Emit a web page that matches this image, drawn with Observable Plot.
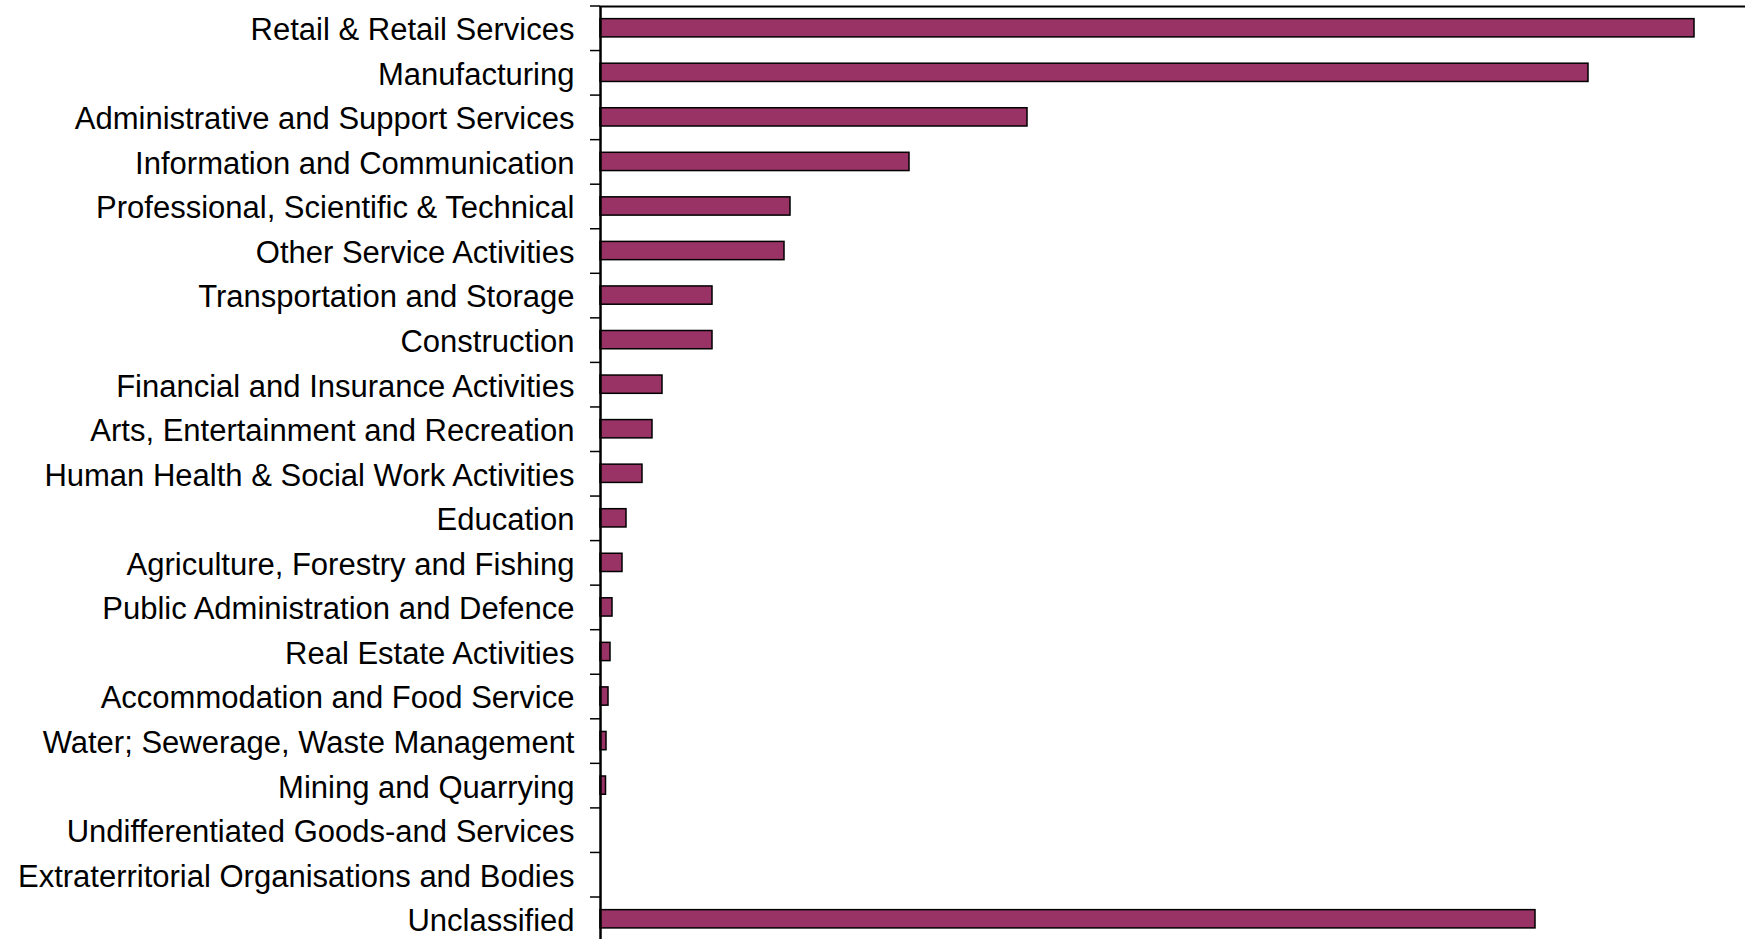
<!DOCTYPE html>
<html>
<head>
<meta charset="utf-8">
<script src="https://cdn.jsdelivr.net/npm/d3@7"></script>
<script src="https://cdn.jsdelivr.net/npm/@observablehq/plot@0.6"></script>
<style>
  html, body { margin: 0; padding: 0; background: #fff; }
  #chart svg { display: block; }
</style>
</head>
<body>
<div id="chart"></div>
<script>
const sectors = [
  "Retail & Retail Services",
  "Manufacturing",
  "Administrative and Support Services",
  "Information and Communication",
  "Professional, Scientific & Technical",
  "Other Service Activities",
  "Transportation and Storage",
  "Construction",
  "Financial and Insurance Activities",
  "Arts, Entertainment and Recreation",
  "Human Health & Social Work Activities",
  "Education",
  "Agriculture, Forestry and Fishing",
  "Public Administration and Defence",
  "Real Estate Activities",
  "Accommodation and Food Service",
  "Water; Sewerage, Waste Management",
  "Mining and Quarrying",
  "Undifferentiated Goods-and Services",
  "Extraterritorial Organisations and Bodies",
  "Unclassified"
];
const counts = [1094, 988, 427, 309, 190, 184, 112, 112, 62, 52, 42, 26, 22, 12, 10, 8, 6, 5.5, 0, 0, 935];
const xMax = 1145;

const data = sectors.map((s, i) => ({sector: s, value: counts[i]}));

const W = 1745, H = 939;
const plotTop = 5.5, plotBottom = 5.5 + 21 * 44.55;
const step = (plotBottom - plotTop) / sectors.length;

const chart = Plot.plot({
  width: W,
  height: H,
  marginLeft: 600,
  marginRight: 0,
  marginTop: 6,
  marginBottom: 0,
  style: {fontFamily: "'Liberation Sans', Arial, sans-serif", fontSize: "31px", color: "#000", background: "#fff"},
  x: {domain: [0, xMax], axis: null},
  y: {domain: sectors, range: [plotTop, plotBottom], paddingInner: 0.59, paddingOuter: 0.295, align: 0.5, round: false, axis: null, label: null},
  marks: [
    Plot.frame({anchor: "top", stroke: "#000", strokeWidth: 2, strokeOpacity: 1}),
    Plot.barX(data, {y: "sector", x: "value", fill: "#993366", stroke: "#000", strokeWidth: 1.5}),
    Plot.axisY({tickSize: 10, text: null, label: null, dy: -step / 2, stroke: "#000", strokeWidth: 1.5, strokeOpacity: 1}),
    Plot.axisY({tickSize: 0, tickPadding: 26, label: null, fontSize: 31, dy: 2, fill: "#000"}),
    Plot.ruleX([0], {stroke: "#000", strokeWidth: 2.5})
  ]
});
document.getElementById("chart").appendChild(chart);
</script>
</body>
</html>
